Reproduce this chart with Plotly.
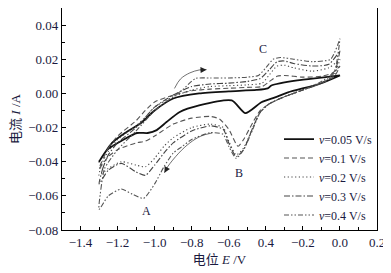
import plotly.graph_objects as go

# ---- data ----
# upper (anodic) branch: from -1.3 V to 0 V ; lower (cathodic) branch: from 0 V back to -1.3 V
e_up_005 = [-1.3, -1.23, -1.16, -1.07, -1.0, -0.9, -0.76, -0.6, -0.45, -0.39, -0.37, -0.23, -0.1, 0.0]
i_up_005 = [-0.040, -0.029, -0.0232, -0.017, -0.010, -0.003, 0.0, 0.0012, 0.002, 0.0029, 0.0046, 0.0076, 0.0092, 0.0105]
e_dn_005 = [0.0, -0.104, -0.28, -0.35, -0.424, -0.51, -0.584, -0.76, -0.867, -0.936, -0.989, -1.037, -1.096, -1.171, -1.256, -1.3]
i_dn_005 = [0.0105, 0.0058, 0.0006, -0.0023, -0.0052, -0.0116, -0.0041, -0.007, -0.011, -0.0168, -0.0215, -0.0232, -0.0232, -0.0273, -0.033, -0.040]

e_up_01 = [-1.3, -1.25, -1.2, -1.1, -1.05, -1.0, -0.9, -0.8, -0.7, -0.6, -0.5, -0.42, -0.38, -0.34, -0.3, -0.2, -0.1, -0.04, 0.0]
i_up_01 = [-0.044, -0.032, -0.025, -0.016, -0.010, -0.005, -0.001, 0.0015, 0.0025, 0.003, 0.0035, 0.004, 0.007, 0.010, 0.0105, 0.0095, 0.010, 0.012, 0.016]
e_dn_01 = [0.0, -0.03, -0.1, -0.2, -0.3, -0.38, -0.43, -0.47, -0.52, -0.55, -0.6, -0.65, -0.7, -0.8, -0.9, -1.0, -1.05, -1.1, -1.2, -1.25, -1.3]
i_dn_01 = [0.016, 0.010, 0.006, 0.002, -0.002, -0.006, -0.010, -0.017, -0.027, -0.031, -0.021, -0.015, -0.0135, -0.0145, -0.018, -0.025, -0.028, -0.029, -0.033, -0.037, -0.044]

e_up_02 = [-1.3, -1.28, -1.25, -1.2, -1.1, -1.05, -1.0, -0.9, -0.8, -0.7, -0.6, -0.5, -0.42, -0.38, -0.34, -0.3, -0.25, -0.15, -0.06, 0.0]
i_up_02 = [-0.048, -0.040, -0.034, -0.027, -0.019, -0.014, -0.008, -0.002, 0.002, 0.004, 0.0045, 0.005, 0.006, 0.011, 0.016, 0.0165, 0.015, 0.013, 0.015, 0.020]
e_dn_02 = [0.0, -0.03, -0.1, -0.2, -0.3, -0.38, -0.43, -0.47, -0.52, -0.56, -0.6, -0.63, -0.7, -0.8, -0.9, -0.95, -1.0, -1.05, -1.1, -1.18, -1.25, -1.3]
i_dn_02 = [0.020, 0.011, 0.006, 0.002, -0.002, -0.006, -0.011, -0.020, -0.032, -0.036, -0.028, -0.020, -0.018, -0.020, -0.026, -0.031, -0.038, -0.043, -0.042, -0.040, -0.044, -0.048]

e_up_03 = [-1.3, -1.28, -1.25, -1.2, -1.1, -1.05, -1.0, -0.9, -0.8, -0.7, -0.6, -0.5, -0.43, -0.38, -0.34, -0.3, -0.25, -0.15, -0.06, 0.0]
i_up_03 = [-0.053, -0.044, -0.036, -0.029, -0.020, -0.014, -0.008, -0.001, 0.004, 0.0055, 0.006, 0.007, 0.0087, 0.014, 0.0185, 0.019, 0.0175, 0.016, 0.017, 0.025]
e_dn_03 = [0.0, -0.03, -0.1, -0.2, -0.3, -0.38, -0.43, -0.47, -0.52, -0.56, -0.6, -0.63, -0.7, -0.8, -0.9, -0.95, -1.0, -1.05, -1.1, -1.18, -1.25, -1.3]
i_dn_03 = [0.025, 0.012, 0.006, 0.002, -0.002, -0.006, -0.011, -0.020, -0.033, -0.037, -0.029, -0.021, -0.019, -0.022, -0.029, -0.035, -0.042, -0.048, -0.046, -0.041, -0.045, -0.053]

e_up_04 = [-1.3, -1.29, -1.27, -1.2, -1.1, -1.0, -0.9, -0.85, -0.78, -0.7, -0.6, -0.5, -0.44, -0.4, -0.36, -0.32, -0.25, -0.15, -0.05, 0.0]
i_up_04 = [-0.068, -0.056, -0.044, -0.033, -0.022, -0.010, -0.002, 0.002, 0.0087, 0.009, 0.009, 0.0095, 0.0105, 0.015, 0.020, 0.021, 0.020, 0.0186, 0.020, 0.032]
e_dn_04 = [0.0, -0.03, -0.1, -0.2, -0.3, -0.38, -0.43, -0.47, -0.52, -0.56, -0.6, -0.63, -0.7, -0.8, -0.85, -0.9, -0.95, -1.0, -1.06, -1.12, -1.18, -1.25, -1.3]
i_dn_04 = [0.032, 0.013, 0.007, 0.002, -0.002, -0.006, -0.011, -0.021, -0.033, -0.038, -0.031, -0.024, -0.023, -0.027, -0.031, -0.035, -0.043, -0.053, -0.0615, -0.059, -0.056, -0.060, -0.068]

series_names = ["<i>v</i>=0.05 V/s", "<i>v</i>=0.1 V/s", "<i>v</i>=0.2 V/s", "<i>v</i>=0.3 V/s", "<i>v</i>=0.4 V/s"]

x_tick_vals = [-1.4, -1.2, -1.0, -0.8, -0.6, -0.4, -0.2, 0.0, 0.2]
x_tick_text = ["\u22121.4", "\u22121.2", "\u22121.0", "\u22120.8", "\u22120.6", "0.4", "\u22120.2", "0.0", "0.2"]
y_tick_vals = [-0.08, -0.06, -0.04, -0.02, 0.0, 0.02, 0.04]

peak_labels = ["A", "B", "C"]
peak_label_e = [-1.043, -0.547, -0.413]
peak_label_i = [-0.069, -0.0465, 0.026]

# scan-direction arrows (curved guide lines)
arrow_up_e = [-0.893, -0.86, -0.81, -0.76, -0.72]
arrow_up_i = [0.0029, 0.0085, 0.0120, 0.0137, 0.0139]
arrow_dn_e = [-0.691, -0.75, -0.81, -0.87, -0.93, -0.947]
arrow_dn_i = [-0.0232, -0.0250, -0.0290, -0.0350, -0.0430, -0.0465]

# ---- figure ----
styles = [
    dict(color="#111111", width=1.8, dash="solid"),
    dict(color="#555555", width=1.1, dash="5px,3px"),
    dict(color="#444444", width=1.1, dash="1.2px,2.5px"),
    dict(color="#444444", width=1.1, dash="6px,2px,1.5px,2px"),
    dict(color="#555555", width=1.1, dash="5px,2px,1.5px,2px,1.5px,2px"),
]

loops = [
    (e_up_005 + e_dn_005, i_up_005 + i_dn_005),
    (e_up_01 + e_dn_01, i_up_01 + i_dn_01),
    (e_up_02 + e_dn_02, i_up_02 + i_dn_02),
    (e_up_03 + e_dn_03, i_up_03 + i_dn_03),
    (e_up_04 + e_dn_04, i_up_04 + i_dn_04),
]

fig = go.Figure()
for (ex, iy), name, st in zip(loops, series_names, styles):
    fig.add_trace(go.Scatter(x=ex, y=iy, mode="lines", name=name,
                             line=dict(color=st["color"], width=st["width"], dash=st["dash"],
                                       shape="spline", smoothing=0.6)))

# arrow guide lines
for ax_e, ax_i in [(arrow_up_e, arrow_up_i), (arrow_dn_e, arrow_dn_i)]:
    fig.add_trace(go.Scatter(x=ax_e, y=ax_i, mode="lines", showlegend=False, hoverinfo="skip",
                             line=dict(color="#333333", width=0.7, shape="spline")))
fig.add_annotation(x=arrow_up_e[-1], y=arrow_up_i[-1], ax=arrow_up_e[-2], ay=arrow_up_i[-2],
                   xref="x", yref="y", axref="x", ayref="y", text="", showarrow=True,
                   arrowhead=2, arrowsize=1.2, arrowwidth=1, arrowcolor="#222222")
fig.add_annotation(x=arrow_dn_e[-1], y=arrow_dn_i[-1], ax=arrow_dn_e[-2], ay=arrow_dn_i[-2],
                   xref="x", yref="y", axref="x", ayref="y", text="", showarrow=True,
                   arrowhead=2, arrowsize=1.2, arrowwidth=1, arrowcolor="#222222")

for t, xe, yi in zip(peak_labels, peak_label_e, peak_label_i):
    fig.add_annotation(x=xe, y=yi, text=t, showarrow=False,
                       font=dict(family="Liberation Serif", size=12, color="#1a1a40"))

axis_common = dict(showline=True, linecolor="black", linewidth=1.2, mirror=True,
                   ticks="inside", ticklen=4, tickwidth=1, tickcolor="black",
                   showgrid=False, zeroline=False, automargin=False,
                   tickfont=dict(family="Liberation Serif", size=13, color="#1a1a40"))

fig.update_xaxes(range=[-1.5, 0.2], tickvals=x_tick_vals, ticktext=x_tick_text,
                 minor=dict(ticks="inside", ticklen=2.5, dtick=0.1, tick0=0, tickcolor="black"),
                 title=dict(text="电位 <i>E</i> /V", standoff=6,
                            font=dict(family="Liberation Serif, Noto Sans CJK SC", size=13, color="#1a1a40")),
                 **axis_common)
fig.update_yaxes(range=[-0.08, 0.05], tickvals=y_tick_vals, tickformat=".2f",
                 minor=dict(ticks="inside", ticklen=2.5, dtick=0.01, tick0=0, tickcolor="black"),
                 title=dict(text="电流 <i>I</i> /A", standoff=6,
                            font=dict(family="Liberation Serif, Noto Sans CJK SC", size=13, color="#1a1a40")),
                 **axis_common)

# the page adds an 8px body margin, so the figure is 8px smaller and shifted
fig.update_layout(
    width=383, height=265,
    margin=dict(l=54, r=14, t=0, b=43),
    paper_bgcolor="white", plot_bgcolor="white",
    showlegend=True,
    legend=dict(x=1.0, xanchor="right", y=0.475, yanchor="top",
                bgcolor="rgba(0,0,0,0)", borderwidth=0, tracegroupgap=0,
                itemwidth=30,
                font=dict(family="Liberation Serif", size=12, color="#1a1a40")),
)

fig.write_html("out.html")
